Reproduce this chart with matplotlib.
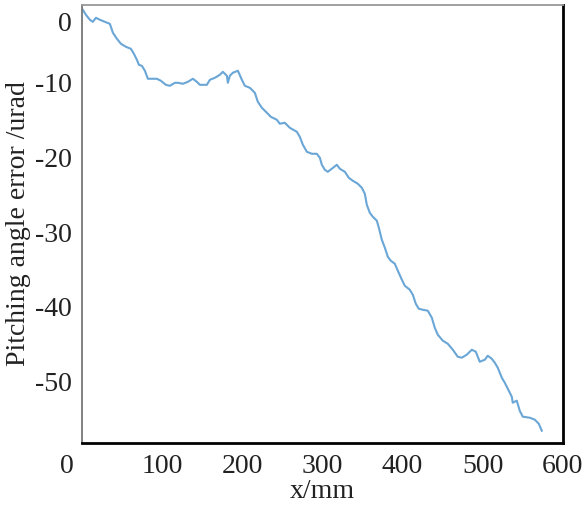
import numpy as np
import matplotlib
matplotlib.use('Agg')
import matplotlib.pyplot as plt
import matplotlib.transforms as mtransforms

plt.rcParams['font.family'] = ['Liberation Serif', 'DejaVu Serif']
plt.rcParams['axes.unicode_minus'] = False

# Pitching angle error along the travel
x_mm = [1.2, 5, 10, 13.7, 17.5, 22.5, 28.7, 34.9, 38.7, 43.7, 48.7, 54.9, 61.1, 64.9,
        68.6, 71.1, 74.8, 78.6, 82.3, 87.3, 93.5, 98.5, 104.8, 109.8, 116, 119.7, 126,
        132.2, 138.5, 143.4, 147.2, 155.9, 159.7, 165.9, 172.1, 175.9, 180.9, 182.1,
        184.6, 188.3, 194.6, 199.6, 203.3, 209.6, 215.8, 219.5, 224.5, 230.8, 235.7,
        243.2, 247, 253.2, 259.4, 268.2, 271.9, 275.7, 280.7, 286.9, 293.1, 296.9,
        299.4, 303.1, 306.8, 311.8, 318.1, 321.8, 328.1, 333, 338, 344.3, 349.3, 353,
        355.5, 359.2, 363, 368, 370.5, 374.2, 378, 381.7, 385.4, 390.4, 394.2, 399.2,
        402.9, 409.1, 412.9, 416.6, 420.4, 425.3, 431.6, 436.6, 440.3, 444, 450.3,
        456.5, 462.8, 469, 474, 480.2, 486.5, 491.5, 496.4, 502.7, 506.4, 511.4, 515.2,
        518.9, 523.9, 527.6, 531.4, 536.4, 537.6, 542.6, 546.3, 550.1, 558.8, 565, 570,
        573.8]
pitch_err = [-0.23, -0.9, -1.57, -1.84, -1.3, -1.57, -1.84, -2.11, -3.31, -4.11, -4.78,
             -5.18, -5.45, -6.12, -6.92, -7.59, -7.73, -8.39, -9.46, -9.46, -9.46, -9.73,
             -10.27, -10.4, -10.0, -10.0, -10.13, -9.87, -9.46, -9.87, -10.27, -10.27,
             -9.6, -9.33, -8.93, -8.53, -9.06, -10.0, -9.06, -8.66, -8.39, -9.6, -10.4,
             -10.67, -11.34, -12.54, -13.34, -14.01, -14.55, -14.95, -15.48, -15.35,
             -16.02, -16.56, -17.23, -18.29, -19.23, -19.5, -19.5, -20.03, -20.97, -21.64,
             -21.91, -21.5, -20.97, -21.5, -21.91, -22.71, -23.11, -23.51, -24.05, -24.85,
             -26.32, -27.39, -27.93, -28.46, -29.4, -31.0, -32.07, -33.28, -33.81, -34.21,
             -35.15, -36.35, -37.16, -37.69, -38.36, -39.57, -40.24, -40.37, -40.5, -41.44,
             -42.78, -43.71, -44.51, -44.92, -45.72, -46.66, -46.79, -46.39, -45.72,
             -45.99, -47.33, -47.06, -46.53, -46.93, -47.46, -48.13, -49.46, -50.13,
             -50.94, -52.01, -52.81, -52.54, -53.88, -54.68, -54.82, -55.08, -55.62,
             -56.56]

x_ticks = [0, 100, 200, 300, 400, 500, 600]
y_ticks = [0, -10, -20, -30, -40, -50]

fig = plt.figure(figsize=(5.85, 5.08), dpi=100)
ax = fig.add_axes([0.140, 0.128, 0.822, 0.862])

ax.plot(x_mm, pitch_err, color='#6aa6d6', lw=1.5)

ax.set_xlim(0, 600)
ax.set_ylim(-58.2, 0.4)
ax.set_xticks(x_ticks)
ax.set_yticks(y_ticks)
ax.tick_params(length=0, labelsize=20, colors='#222222')
ax.tick_params(axis='x', pad=8)
ax.tick_params(axis='y', pad=7)

# the "0" labels sit a bit off the corner in the original
xl0 = ax.xaxis.get_major_ticks()[0].label1
xl0.set_transform(xl0.get_transform() + mtransforms.ScaledTranslation(-0.15, 0, fig.dpi_scale_trans))
yl0 = ax.yaxis.get_major_ticks()[0].label1
yl0.set_transform(yl0.get_transform() + mtransforms.ScaledTranslation(0, -0.13, fig.dpi_scale_trans))

ax.set_xlabel('x/mm', fontsize=20, color='#222222', labelpad=0)
ax.set_ylabel('Pitching angle error /urad', fontsize=20, color='#222222', labelpad=3)

ax.spines['left'].set_color('#777777')
ax.spines['left'].set_linewidth(1.3)
ax.spines['top'].set_color('#999999')
ax.spines['top'].set_linewidth(1.3)
ax.spines['right'].set_color('black')
ax.spines['right'].set_linewidth(2)
ax.spines['bottom'].set_color('black')
ax.spines['bottom'].set_linewidth(2)

fig.savefig('out.png', dpi=100)
